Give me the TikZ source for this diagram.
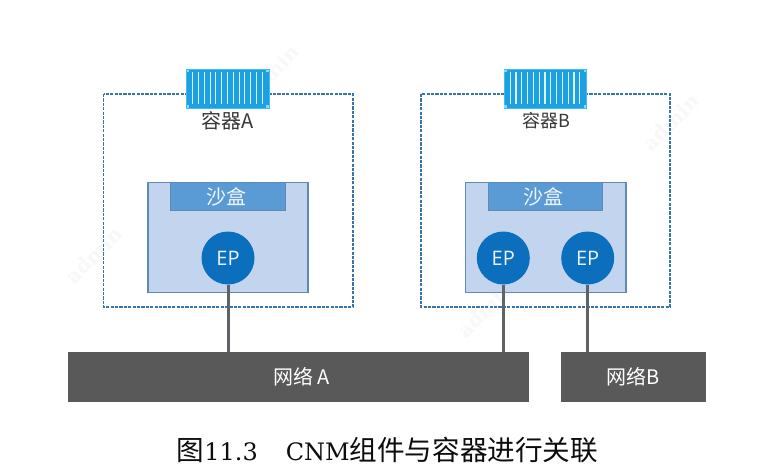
\documentclass[tikz,border=0pt]{standalone}
\usepackage{fontspec}
\setmainfont{DejaVu Serif}
\newfontfamily\cjk{Noto Sans CJK SC}
\newfontfamily\lab{Open Sans}
\definecolor{dashblue}{HTML}{3A74A8}
\definecolor{sandfill}{HTML}{C3D5EE}
\definecolor{sandline}{HTML}{5F8AB3}
\definecolor{barfill}{HTML}{5B9BD5}
\definecolor{epfill}{HTML}{0B6FBE}
\definecolor{netfill}{HTML}{595959}
\definecolor{linkgray}{HTML}{5F6368}
\definecolor{boxblue}{HTML}{1BA1E2}
\definecolor{boxedge}{HTML}{45BDEE}
\definecolor{markgray}{HTML}{F8F8F8}
\tikzset{
  x=1pt,y=-1pt,
  dashbox/.style={draw=dashblue,line width=1.25pt,dash pattern=on 3.2pt off 1.2pt},
  sandbox/.style={draw=sandline,line width=1.2pt,fill=sandfill},
  bar/.style={draw=sandline,line width=1pt,fill=barfill,text=white!92!barfill,font=\cjk\fontsize{20}{20}\selectfont},
  ep/.style={circle,fill=epfill,text=white!92!epfill,inner sep=0pt,minimum size=53pt,font=\lab\fontsize{20}{20}\selectfont},
  net/.style={fill=netfill,text=white,font=\cjk\fontsize{20}{20}\selectfont,inner sep=0pt},
  link/.style={draw=linkgray,line width=3pt},
  lbl/.style={text=black!78,font=\cjk\fontsize{20}{20}\selectfont,inner sep=0pt},
  crate/.style={fill=boxblue,draw=boxedge,line width=0.8pt},
  slat/.style={draw=white!85!boxblue,line width=1.1pt},
  wm/.style={text=markgray,font=\bfseries\fontsize{20}{20}\selectfont,rotate=45,inner sep=0pt},
}
\newcommand{\cratelines}[1]{%
  \foreach \i in {0,...,12}{
    \draw[slat] (#1+6.2+5.8*\i,72.5) -- (#1+6.2+5.8*\i,104);
  }%
}
\begin{document}
\begin{tikzpicture}
\useasboundingbox (0,0) rectangle (761,476);
\fill[white] (0,0) rectangle (761,476);
% watermarks
\node[wm] at (271,73) {admin};
\node[wm] at (94,255) {admin};
\node[wm] at (671,122) {admin};
\node[wm] at (486,309) {admin};
% outer dashed boxes
\draw[dashbox] (103.5,94) rectangle (353,307);
\draw[dashbox] (421,94) rectangle (670,307);
% network bars
\node[net,minimum width=461pt,minimum height=50pt] (neta) at (298.5,377) {\hspace{6pt}\raisebox{-1pt}{网络\,A}};
\node[net,minimum width=145pt,minimum height=50pt] (netb) at (633.5,377) {\raisebox{-1pt}{网络B}};
% sandboxes
\draw[sandbox] (148,182.5) rectangle (308,292.5);
\draw[sandbox] (465.5,182.5) rectangle (626,292.5);
\node[bar,minimum width=115pt,minimum height=28pt,inner sep=0pt] (sa) at (228,196.5) {\hspace{-3.5pt}沙盒};
\node[bar,minimum width=114pt,minimum height=28pt,inner sep=0pt] (sb) at (545.5,196.5) {\hspace{-4.5pt}沙盒};
% endpoints
\node[ep] (ep1) at (228,258) {EP};
\node[ep] (ep2) at (503.3,258) {EP};
\node[ep] (ep3) at (587.7,258) {EP};
\coordinate (na) at (228,352);
\coordinate (nb) at (503.3,352);
\coordinate (nc) at (587.7,352);
\draw[link] (ep1.south) -- (na);
\draw[link] (ep2.south) -- (nb);
\draw[link] (ep3.south) -- (nc);
% containers
\draw[crate] (186.5,69.5) rectangle (269,108);
\draw[crate] (504,69.5) rectangle (586.5,108);
\cratelines{186.5}
\cratelines{504}
\foreach \x in {188,267.5,505.5,585}{
  \foreach \y in {71,106.5}{
    \fill[white!40!boxedge] (\x-1.2,\y-1.2) rectangle (\x+1.2,\y+1.2);
  }
}
\node[lbl] (la) at (227.5,120.5) {容器A};
\node[lbl,font=\cjk\fontsize{18}{18}\selectfont] (lb) at (546,120.5) {容器B};
% caption
\node[inner sep=0pt,text=black!95,font=\fontsize{24}{24}\selectfont] (cap) at (387.5,450) {{\cjk\fontsize{27.6}{27.6}\selectfont 图}11.3\hspace{28pt}CNM{\cjk\fontsize{27.6}{27.6}\selectfont 组件与容器进行关联}};
\end{tikzpicture}
\end{document}
